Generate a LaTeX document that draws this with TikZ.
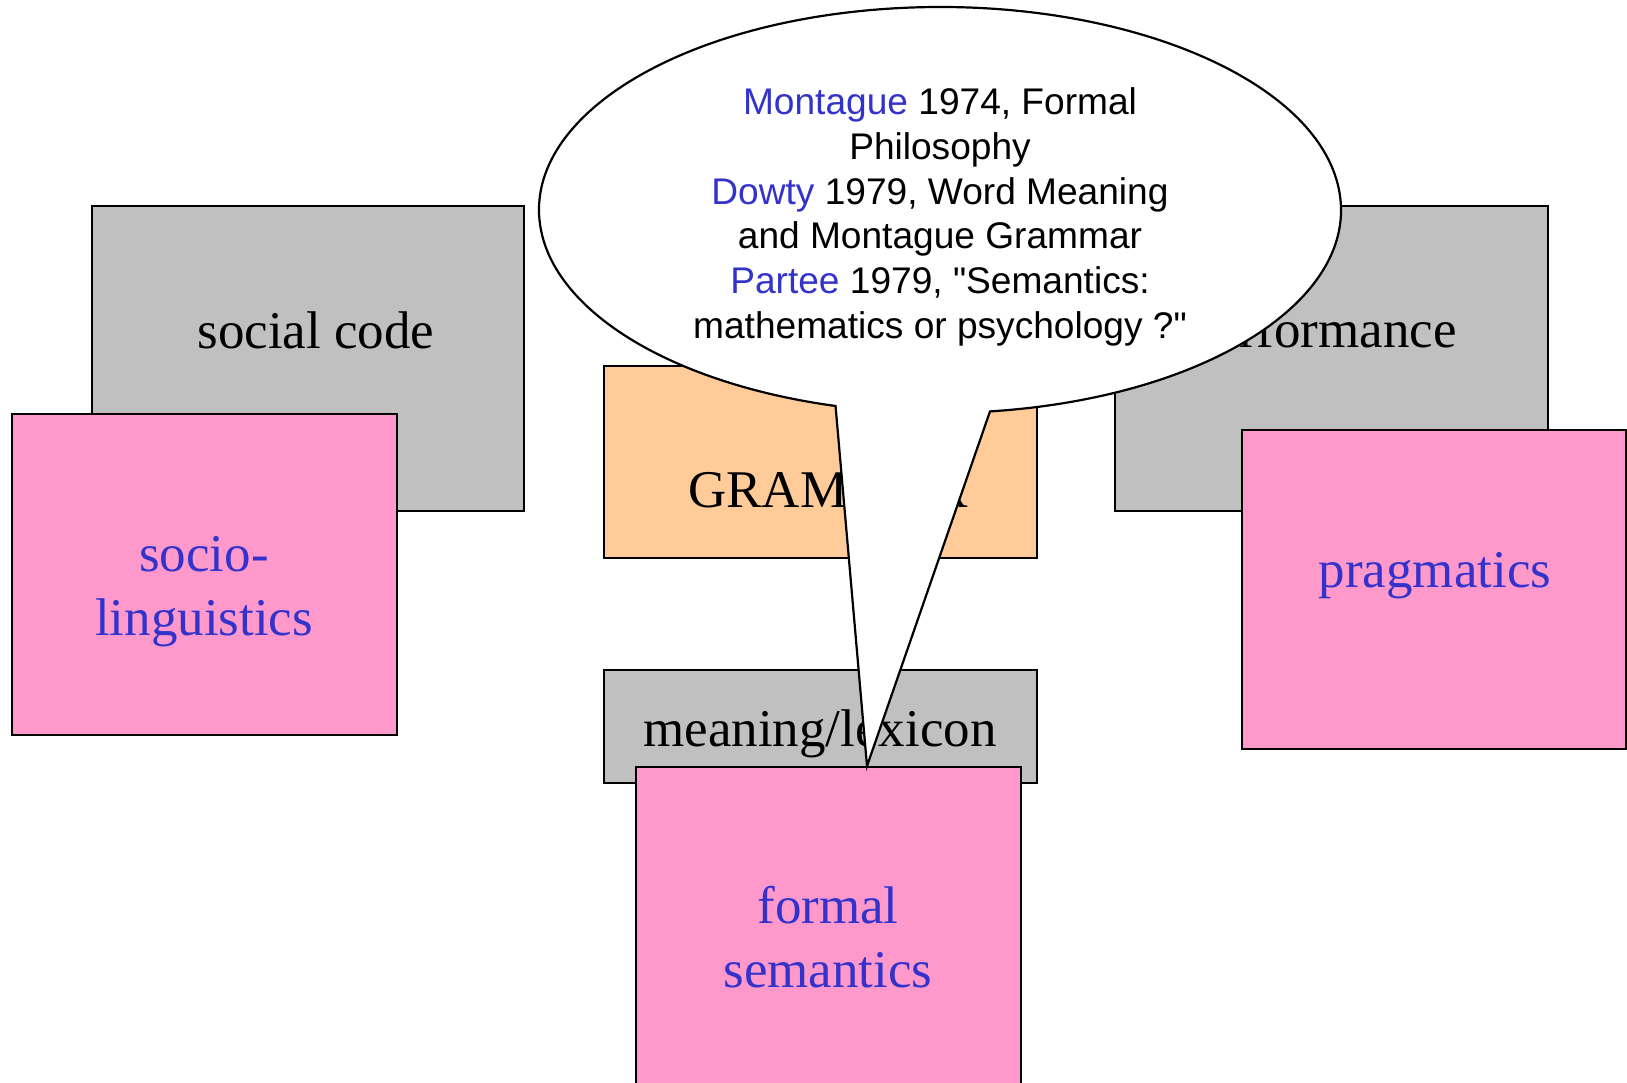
\documentclass[tikz,border=0pt]{standalone}
\usepackage{fontspec}
\setmainfont{Liberation Serif}
\newfontfamily\calloutfont{Liberation Sans}
\usetikzlibrary{calc}
\definecolor{gfill}{HTML}{C0C0C0}
\definecolor{pfill}{HTML}{FF99CC}
\definecolor{ofill}{HTML}{FFCC99}
\definecolor{btext}{HTML}{3333CC}
\begin{document}
\begin{tikzpicture}[x=0.5pt,y=-0.5pt,
  box/.style={draw=black, line width=1.1pt, inner sep=0pt, outer sep=0pt, anchor=north west},
  gbox/.style={box, fill=gfill},
  pbox/.style={box, fill=pfill},
  obox/.style={box, fill=ofill},
  btxt/.style={font=\fontsize{26.5}{31.8}\selectfont, inner sep=0pt, align=center, anchor=base},
  ptxt/.style={btxt, text=btext},
  callout/.style={draw=black, fill=white, line width=1.1pt, line join=miter},
  ctxt/.style={font=\calloutfont\fontsize{18.55}{22.4}\selectfont, inner sep=0pt, align=center}
]
\useasboundingbox (0,0) rectangle (1627,1082);
\clip (0,0) rectangle (1627,1082);
\fill[white] (0,0) rectangle (1627,1082);

% left group
\node[gbox, minimum width=216pt, minimum height=152.5pt] (social) at (92,206) {};
\node[btxt] (tsocial) at (316,348) {social code};
\node[pbox, minimum width=192.5pt, minimum height=160.5pt] (socio) at (12,414) {};
\node[ptxt] (tsocio) at (204,635) {socio-\\linguistics};

% middle group
\node[obox, minimum width=216.5pt, minimum height=96pt] (grammar) at (604,366) {};
\node[btxt] (tgrammar) at (828,507) {GRAMMAR};
\node[gbox, minimum width=216.5pt, minimum height=56.5pt] (meaning) at (604,670) {};
\node[btxt] (tmeaning) at (820,746) {meaning/lexicon};
\node[pbox, minimum width=192.5pt, minimum height=170pt] (formal) at (636,767) {};
\node[ptxt] (tformal) at (828,987) {formal\\semantics};

% right group
\node[gbox, minimum width=216.5pt, minimum height=152.5pt] (perf) at (1115,206) {};
\node[btxt] (tperf) at (1323,347) {performance};
\node[pbox, minimum width=192pt, minimum height=159.5pt] (prag) at (1242,430) {};
\node[ptxt] (tprag) at (1435,587) {pragmatics};

% callout
\coordinate (cc) at (940,210);
\coordinate (tip) at (867,766);
\draw[callout] ($(cc)+(277.16:200.5pt and 101.5pt)$)
  arc[start angle=277.16, end angle=614.9, x radius=200.5pt, y radius=101.5pt]
  -- (tip) -- cycle;
\node[ctxt] (tcallout) at (940,217) {\textcolor{btext}{Montague} 1974, Formal\\Philosophy\\\textcolor{btext}{Dowty} 1979, Word Meaning\\and Montague Grammar\\\textcolor{btext}{Partee} 1979, "Semantics:\\mathematics or psychology ?"};
\end{tikzpicture}
\end{document}
